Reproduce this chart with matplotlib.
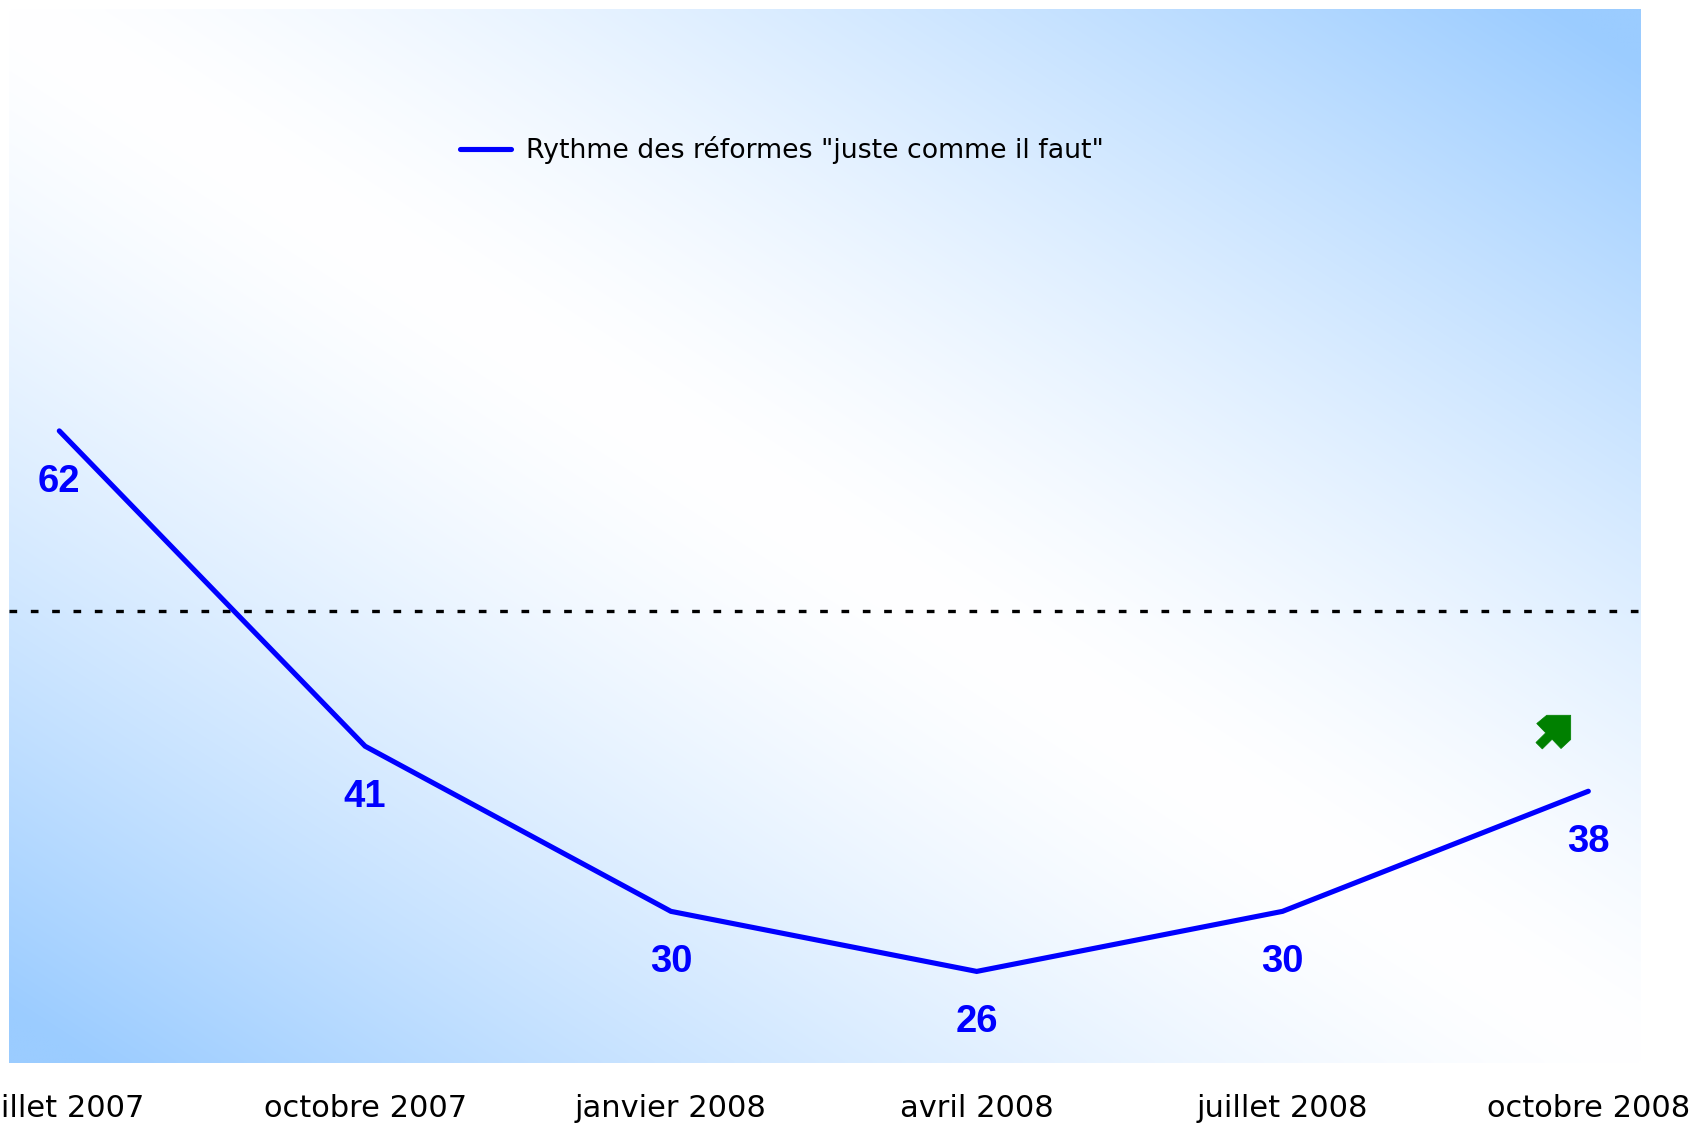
import numpy as np
import matplotlib
matplotlib.use("Agg")
import matplotlib.pyplot as plt
import matplotlib.transforms as mtransforms
from matplotlib.patches import Polygon

# data
periods = ["juillet 2007", "octobre 2007", "janvier 2008", "avril 2008",
           "juillet 2008", "octobre 2008"]
rythme = [62, 41, 30, 26, 30, 38]
reference = 50
series_label = 'Rythme des réformes "juste comme il faut"'

BLUE = "#0000ff"
LIGHT = np.array([155, 204, 255]) / 255.0
GREEN = "#008000"

fig = plt.figure(figsize=(17.01, 11.28), dpi=100, facecolor="white")
ax = fig.add_axes([9 / 1701, 1 - 1063 / 1128, 1631 / 1701, 1054 / 1128])

# diagonal gradient background: white along top-left -> bottom-right diagonal
u = np.linspace(0, 1, 400)[None, :]
v = np.linspace(0, 1, 300)[:, None]
t = np.clip(np.abs(u - v) * 1.05, 0, 1) ** 1.4
img = (1 - t[..., None]) * np.ones(3) + t[..., None] * LIGHT
ax.imshow(img, extent=[0, 1, 0, 1], transform=ax.transAxes, aspect="auto",
          origin="upper", zorder=0, interpolation="bilinear")

x = np.arange(len(periods))
ax.plot(x, rythme, color=BLUE, lw=3.7, solid_capstyle="round",
        solid_joinstyle="miter", label=series_label, zorder=3)
ax.axhline(reference, color="black", lw=2.4, ls=(0, (2.3, 4.1)), zorder=2)

for xi, yi in zip(x, rythme):
    ax.annotate(str(yi), (xi, yi), xytext=(0, -36.7), textcoords="offset points",
                ha="center", va="center", fontsize=27.5, fontweight="bold",
                color=BLUE, family="Liberation Sans", zorder=4)

# green "up" arrow next to the last value: shape in px relative to its tip,
# tip placed in px relative to the last point
tip = (-17.6, 76)
arrow_shape = [(0, 0), (-24, 0), (-34, -8.3), (-25.0, -17.6), (-34.8, -27.3),
               (-28.4, -33.7), (-18.6, -24.0), (-9.7, -33.3), (0, -24.3)]
trans = fig.dpi_scale_trans + mtransforms.ScaledTranslation(
    x[-1], rythme[-1], ax.transData)
ax.add_patch(Polygon([((tip[0] + a) / 100, (tip[1] + b) / 100)
                      for a, b in arrow_shape], closed=True,
                     facecolor=GREEN, edgecolor=GREEN, lw=0.5,
                     transform=trans, zorder=5))

ax.set_xlim(-0.1645, 5.169)
ax.set_ylim(19.9, 90.1)
ax.set_xticks(x)
ax.set_xticklabels(periods, fontsize=22, family="DejaVu Sans", color="black")
ax.tick_params(axis="x", length=0, pad=22)
ax.set_yticks([])
for s in ax.spines.values():
    s.set_visible(False)

ax.legend(loc="center left", bbox_to_anchor=(460 / 1701, 1 - 150 / 1128),
          bbox_transform=fig.transFigure, frameon=False, borderpad=0,
          borderaxespad=0, handlelength=1.92, handletextpad=0.55,
          prop={"family": "DejaVu Sans", "size": 19.3})

fig.savefig("out.png", dpi=100, facecolor="white")
